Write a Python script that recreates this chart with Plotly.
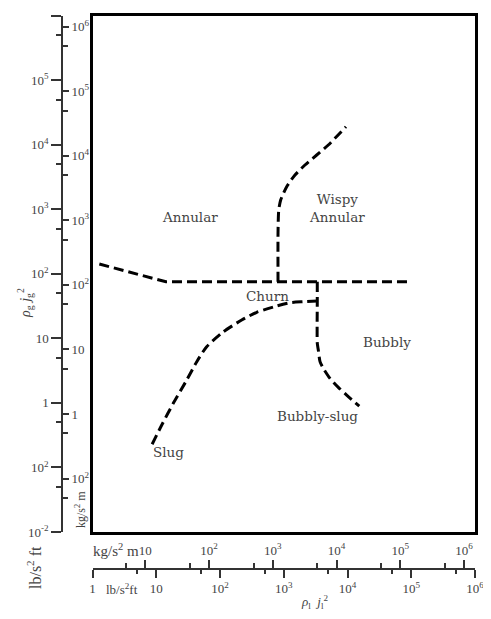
import numpy as np
import plotly.graph_objects as go

# ---------------- data (lb/s^2 ft units) ----------------
# Annular / churn boundary
b1_x = [1.28, 14.2, 101600]
b1_y = [141.6, 75, 75]
# Annular / wispy-annular boundary
b2_x = [813, 813, 834, 895, 1112, 1500, 2153, 3289, 5000, 9462]
b2_y = [75, 423, 970, 1387, 2228, 3381, 4831, 6902, 9863, 18970]
# Churn / bubbly boundary, down to bubbly-slug
b3_x = [3357, 3357, 3357, 3483, 3707, 4169, 5309, 7178, 9705, 15310]
b3_y = [75, 38, 8.4, 6.6, 4.35, 3.43, 2.4, 1.74, 1.32, 0.89]
# Churn / slug boundary
b4_x = [3357, 2028, 1253, 774, 377, 219, 113, 61.8, 43.2, 30.1, 18.5, 12.2, 8.49]
b4_y = [38, 36.9, 35.6, 31.6, 25.3, 19.2, 12.6, 7.41, 4.35, 2.26, 0.984, 0.454, 0.222]

region_names = ["Annular", "Wispy<br>Annular", "Churn", "Bubbly", "Bubbly-slug", "Slug"]
region_x = [33.8, 6839, 552, 41210, 3411, 15.5]
region_y = [765, 1042, 45.2, 8.85, 0.625, 0.175]

# axis ticks
KG_PER_LB = 1.488  # 1 lb/s^2 ft = 1.488 kg/s^2 m
lb_x_tickvals = [1, 10, 1e2, 1e3, 1e4, 1e5, 1e6]
lb_x_ticktext = ["1", "10", "10<sup>2</sup>", "10<sup>3</sup>", "10<sup>4</sup>", "10<sup>5</sup>", "10<sup>6</sup>"]
kg_x_tickvals = [10, 1e2, 1e3, 1e4, 1e5, 1e6]
kg_x_ticktext = ["10", "10<sup>2</sup>", "10<sup>3</sup>", "10<sup>4</sup>", "10<sup>5</sup>", "10<sup>6</sup>"]
x_minor = [5, 50, 500, 5e3, 5e4, 5e5]

lb_y_tickvals = [1e-2, 1e-1, 1, 10, 1e2, 1e3, 1e4, 1e5, 1e6]
lb_y_ticktext = ["10<sup>-2</sup>", "10<sup>2</sup>", "1", "10", "10<sup>2</sup>", "10<sup>3</sup>",
                 "10<sup>4</sup>", "10<sup>5</sup>", "10<sup>6</sup>"]
kg_y_tickvals = [1e-1, 1, 10, 1e2, 1e3, 1e4, 1e5, 1e6]
kg_y_ticktext = ["10<sup>2</sup>", "1", "10", "10<sup>2</sup>", "10<sup>3</sup>",
                 "10<sup>4</sup>", "10<sup>5</sup>", "10<sup>6</sup>"]
y_minor = [5e-2, 0.5, 5, 50, 500, 5e3, 5e4, 5e5]

# ---------------- layout geometry ----------------
BODY = 8  # default page margin around the figure
W, H = 491 - 2 * BODY, 619 - 2 * BODY
px = lambda v: (v - BODY) / W
py = lambda v: 1 - (v - BODY) / H
xdom = [px(92.5), px(475)]
ydom = [py(532), py(15.5)]
off = np.log10(KG_PER_LB)

SERIF = "Liberation Serif, serif"
TXT = "#444444"
AX = "#333333"

fig = go.Figure()
for bx, by, shape in [(b1_x, b1_y, "linear"), (b2_x, b2_y, "spline"),
                      (b3_x, b3_y, "spline"), (b4_x, b4_y, "spline")]:
    fig.add_trace(go.Scatter(x=bx, y=by, mode="lines",
                             line=dict(color="black", width=3, dash="10px,5px", shape=shape, smoothing=0.6),
                             hoverinfo="skip", showlegend=False))

# dummy traces to bind the auxiliary axes
fig.add_trace(go.Scatter(x=[10], y=[10], xaxis="x2", yaxis="y2", mode="markers",
                         marker=dict(opacity=0), hoverinfo="skip", showlegend=False))
fig.add_trace(go.Scatter(x=[10], y=[10], xaxis="x3", yaxis="y3", mode="markers",
                         marker=dict(opacity=0), hoverinfo="skip", showlegend=False))

tickfont = dict(family=SERIF, size=13, color=TXT)

fig.update_layout(
    width=W, height=H, template="none",
    margin=dict(l=0, r=0, t=0, b=0, autoexpand=False),
    paper_bgcolor="white", plot_bgcolor="white", showlegend=False,
    xaxis=dict(type="log", range=[0, 6], domain=xdom, anchor="y", showline=True, mirror=True,
               linewidth=3, linecolor="black", ticks="", showticklabels=False, showgrid=False,
               zeroline=False, automargin=False),
    yaxis=dict(type="log", range=[-2, 6], domain=ydom, anchor="x", showline=True, mirror=True,
               linewidth=3, linecolor="black", ticks="", showticklabels=False, showgrid=False,
               zeroline=False, automargin=False),
    # lb/s^2 ft bottom scale
    xaxis2=dict(type="log", range=[0, 6], domain=xdom, overlaying="x", anchor="free",
                position=py(569), side="bottom", showline=True, linewidth=1.5, linecolor=AX,
                ticks="outside", ticklen=8, tickwidth=1.5, tickcolor=AX,
                tickmode="array", tickvals=lb_x_tickvals, ticktext=lb_x_ticktext,
                ticklabeloverflow="allow",
                tickfont=tickfont, showgrid=False, zeroline=False, automargin=False,
                minor=dict(tickmode="array", tickvals=x_minor, ticks="outside", ticklen=4,
                           tickwidth=1.5, tickcolor=AX, showgrid=False)),
    # kg/s^2 m bottom scale
    xaxis3=dict(type="log", range=[off, 6 + off], domain=xdom, overlaying="x", anchor="free",
                position=py(569), side="top", showline=False,
                ticks="outside", ticklen=9, tickwidth=1.5, tickcolor=AX,
                tickmode="array", tickvals=kg_x_tickvals, ticktext=kg_x_ticktext,
                ticklabeloverflow="allow",
                tickfont=tickfont, showgrid=False, zeroline=False, automargin=False,
                minor=dict(tickmode="array", tickvals=x_minor, ticks="outside", ticklen=6,
                           tickwidth=1.5, tickcolor=AX, showgrid=False)),
    # lb/s^2 ft left scale
    yaxis2=dict(type="log", range=[-2, 6], domain=ydom, overlaying="y", anchor="free",
                position=px(62), side="left", showline=True, linewidth=1.5, linecolor=AX,
                ticks="outside", ticklen=10, tickwidth=1.5, tickcolor=AX,
                tickmode="array", tickvals=lb_y_tickvals, ticktext=lb_y_ticktext,
                tickfont=tickfont, showgrid=False, zeroline=False, automargin=False,
                minor=dict(tickmode="array", tickvals=y_minor, ticks="outside", ticklen=5,
                           tickwidth=1.5, tickcolor=AX, showgrid=False)),
    # kg/s^2 m left scale (ticks to the right)
    yaxis3=dict(type="log", range=[-2 + off, 6 + off], domain=ydom, overlaying="y", anchor="free",
                position=px(62), side="right", showline=False,
                ticks="outside", ticklen=6, tickwidth=1.5, tickcolor=AX,
                tickmode="array", tickvals=kg_y_tickvals, ticktext=kg_y_ticktext,
                tickfont=tickfont, showgrid=False, zeroline=False, automargin=False,
                minor=dict(tickmode="array", tickvals=y_minor, ticks="outside", ticklen=5,
                           tickwidth=1.5, tickcolor=AX, showgrid=False)),
)

# region labels
for name, rx, ry in zip(region_names, region_x, region_y):
    fig.add_annotation(x=np.log10(rx), y=np.log10(ry), xref="x", yref="y", text=name,
                       showarrow=False, font=dict(family="DejaVu Serif, serif", size=13.5, color=TXT),
                       align="center")

def paper_note(text, x, y, size=13, angle=0, xanchor="center", yanchor="middle"):
    fig.add_annotation(x=px(x), y=py(y), xref="paper", yref="paper", text=text, showarrow=False,
                       textangle=angle, xanchor=xanchor, yanchor=yanchor,
                       font=dict(family=SERIF, size=size, color=TXT))

paper_note("kg/s<sup>2</sup> m", 141, 550, size=15, xanchor="right")
paper_note("lb/s<sup>2</sup>ft", 122, 589, size=13)
paper_note("<i>ρ</i><sub>l</sub>  <i>j</i><sub>l</sub><sup>2</sup>", 314, 602, size=13)
paper_note("<i>ρ</i><sub>g</sub> <i>j</i><sub>g</sub><sup>2</sup>", 25, 303, size=14, angle=-90)
paper_note("lb/s<sup>2</sup> ft", 34, 568, size=16, angle=-90)
paper_note("kg/s<sup>2</sup> m", 80, 510, size=12, angle=-90)

fig.write_html("out.html")
